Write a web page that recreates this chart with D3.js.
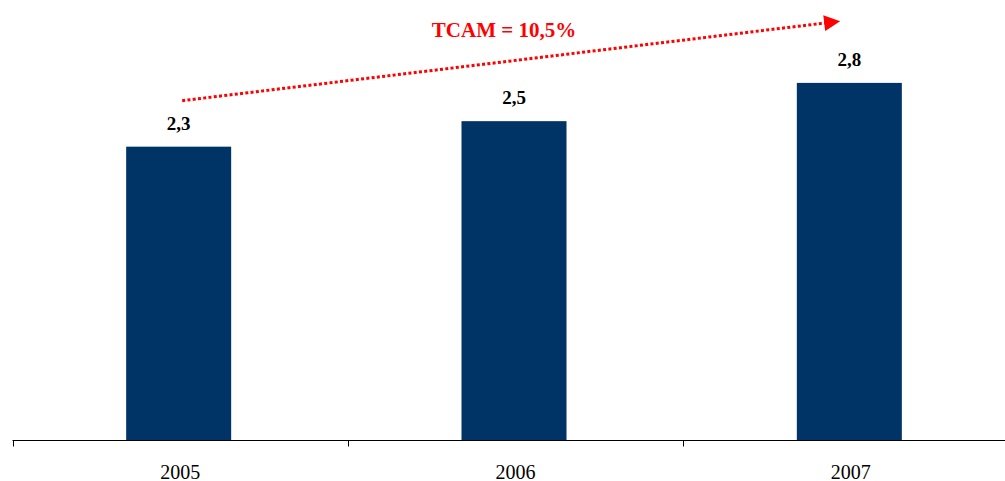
<!DOCTYPE html>
<html>
<head>
<meta charset="utf-8">
<script src="https://cdn.jsdelivr.net/npm/d3@7"></script>
<style>
  html, body { margin: 0; padding: 0; background: #fff; }
  svg { display: block; }
</style>
</head>
<body>
<svg id="chart" width="1005" height="481"></svg>
<script>
// Yearly values (billions) and growth annotation
const years = ["2005", "2006", "2007"];
const values = [2.3, 2.5, 2.8];
const valueLabels = ["2,3", "2,5", "2,8"];
const growthLabel = "TCAM = 10,5%";

const width = 1005, height = 481;
const baseY = 440;

const svg = d3.select("#chart");

const x = d3.scaleBand()
  .domain(years)
  .range([12.5, 1018.5])
  .padding(0);

const y = d3.scaleLinear()
  .domain([0, 3.45])
  .range([baseY, 0]);

const barW = 105;
const serif = "'Liberation Serif', 'Times New Roman', serif";

// Bars
svg.append("g")
  .selectAll("rect")
  .data(values)
  .join("rect")
  .attr("x", (d, i) => x(years[i]) + x.bandwidth() / 2 - barW / 2 - 1.5)
  .attr("y", d => y(d))
  .attr("width", barW)
  .attr("height", d => y(0) - y(d))
  .attr("fill", "#003366");

// Value labels
svg.append("g")
  .selectAll("text")
  .data(values)
  .join("text")
  .attr("x", (d, i) => x(years[i]) + x.bandwidth() / 2 - 1.5)
  .attr("y", d => y(d) - 17)
  .attr("text-anchor", "middle")
  .attr("font-family", serif)
  .attr("font-weight", "bold")
  .attr("font-size", 19)
  .attr("fill", "#000")
  .text((d, i) => valueLabels[i]);

// Category axis: ticks on band boundaries
const axisG = svg.append("g").attr("transform", `translate(0,${baseY + 0.5})`);
axisG.append("line")
  .attr("x1", x.range()[0])
  .attr("x2", x.range()[1])
  .attr("stroke", "#000")
  .attr("stroke-width", 1);
axisG.selectAll("line.tick")
  .data(years)
  .join("line")
  .attr("class", "tick")
  .attr("x1", d => Math.round(x(d)) + 0.5)
  .attr("x2", d => Math.round(x(d)) + 0.5)
  .attr("y1", 0)
  .attr("y2", 6)
  .attr("stroke", "#000")
  .attr("stroke-width", 1);
axisG.selectAll("text")
  .data(years)
  .join("text")
  .attr("x", d => x(d) + x.bandwidth() / 2)
  .attr("y", 38)
  .attr("text-anchor", "middle")
  .attr("font-family", serif)
  .attr("font-size", 20)
  .attr("fill", "#000")
  .text(d => d);

// Growth arrow from the first to the last bar
const defs = svg.append("defs");
defs.append("marker")
  .attr("id", "arrowHead")
  .attr("viewBox", "0 0 10 10")
  .attr("refX", 1)
  .attr("refY", 5)
  .attr("markerUnits", "userSpaceOnUse")
  .attr("markerWidth", 17)
  .attr("markerHeight", 16)
  .attr("orient", "auto")
  .append("path")
  .attr("d", "M0,0 L10,5 L0,10 Z")
  .attr("fill", "#ff0000");

const first = 0, last = values.length - 1;
const x0 = x(years[first]) + x.bandwidth() / 2 + 2;
const y0 = y(values[first]) - 46;
const x1 = x(years[last]) + x.bandwidth() / 2 - 25;
const y1 = y(values[last]) - 60;

svg.append("line")
  .attr("x1", x0)
  .attr("y1", y0)
  .attr("x2", x1)
  .attr("y2", y1)
  .attr("stroke", "#ff0000")
  .attr("stroke-width", 3)
  .attr("stroke-dasharray", "3,2.3")
  .attr("marker-end", "url(#arrowHead)");

svg.append("text")
  .attr("x", (x0 + x1) / 2 + 0)
  .attr("y", 37)
  .attr("text-anchor", "middle")
  .attr("font-family", serif)
  .attr("font-weight", "bold")
  .attr("font-size", 21)
  .attr("fill", "#ff0000")
  .text(growthLabel);
</script>
</body>
</html>
